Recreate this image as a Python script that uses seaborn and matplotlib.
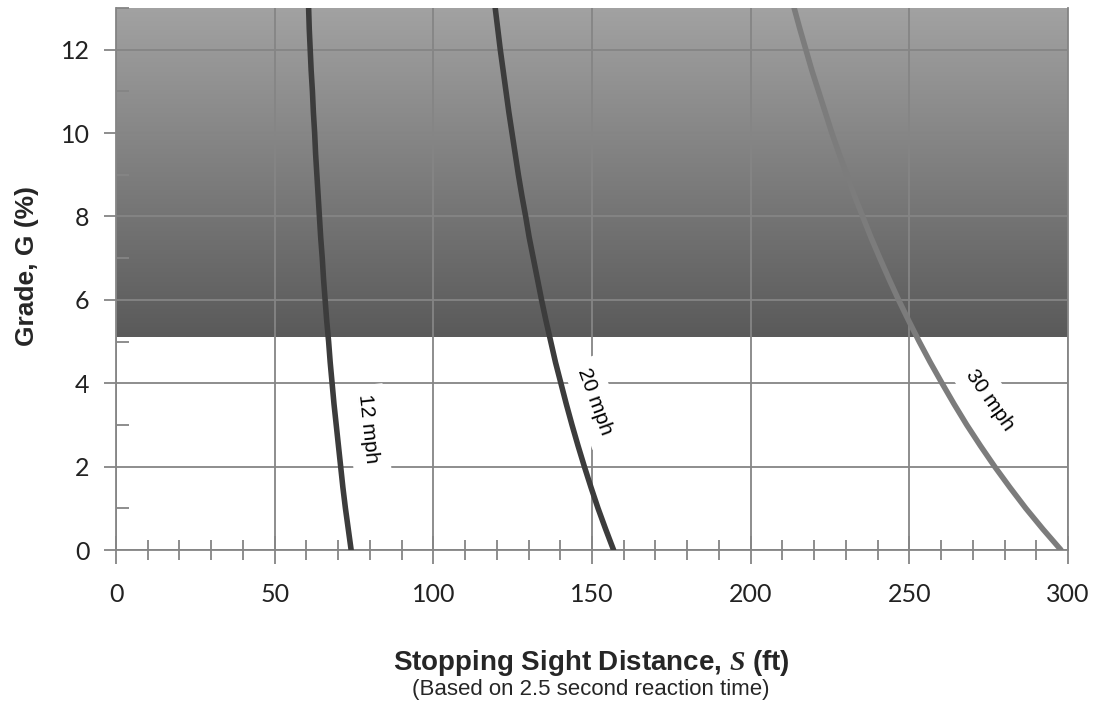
import numpy as np
import pandas as pd
import matplotlib
matplotlib.use("Agg")
import matplotlib.pyplot as plt
from matplotlib.colors import LinearSegmentedColormap
from matplotlib.ticker import MultipleLocator
import seaborn as sns

# valores (pendiente G en %, distancia S en ft)
grade = [0, 0.5, 1, 1.5, 2, 2.5, 3, 3.5, 4, 4.5, 5, 5.5, 6, 6.5, 7, 7.5, 8, 8.5,
         9, 9.5, 10, 10.5, 11, 11.5, 12, 12.5, 13]
s_12mph = [74.1, 73.2, 72.3, 71.5, 70.8, 70.1, 69.4, 68.7, 68.1, 67.5, 67.0, 66.4, 65.9, 65.4,
           65.0, 64.5, 64.1, 63.7, 63.3, 62.9, 62.6, 62.2, 61.9, 61.5, 61.2, 60.9, 60.7]
s_20mph = [156.8, 154.3, 151.9, 149.7, 147.6, 145.6, 143.7, 141.9, 140.2, 138.5, 137.0, 135.5,
           134.1, 132.8, 131.5, 130.2, 129.1, 127.9, 126.8, 125.8, 124.8, 123.8, 122.9, 122.0,
           121.1, 120.3, 119.5]
s_30mph = [297.8, 292.1, 286.7, 281.7, 276.9, 272.4, 268.1, 264.1, 260.3, 256.6, 253.1, 249.8,
           246.6, 243.6, 240.7, 237.9, 235.3, 232.7, 230.3, 227.9, 225.6, 223.5, 221.4, 219.3,
           217.4, 215.5, 213.7]
speeds = ["12 mph", "20 mph", "30 mph"]
shade_from = 5.1

# etiquetas de las curvas: (S, G, rotación)
label_pos = {"12 mph": (79.5, 2.9, -84), "20 mph": (151, 3.55, -70), "30 mph": (275.5, 3.6, -55)}

sns.set_theme(style="white")
plt.rcParams.update({
    "font.family": ["Liberation Sans", "DejaVu Sans"],
    "mathtext.fontset": "custom",
    "mathtext.it": "Liberation Serif:bold:italic",
    "mathtext.rm": "Liberation Sans:bold",
})

df = pd.concat([
    pd.DataFrame({"S": s, "G": grade, "Speed": name})
    for name, s in zip(speeds, [s_12mph, s_20mph, s_30mph])
])

fig = plt.figure(figsize=(10.96, 7.04), dpi=100)
ax = fig.add_axes([116 / 1096, 154 / 704, 952 / 1096, 542 / 704])

# zona sombreada con degradado
cmap = LinearSegmentedColormap.from_list("shade", ["#5a5a5a", "#a2a2a2"])
ax.imshow(np.linspace(0, 1, 256)[:, None], extent=[0, 300, shade_from, 13],
          origin="lower", cmap=cmap, aspect="auto", zorder=0)

palette = {"12 mph": "#3c3c3c", "20 mph": "#3c3c3c", "30 mph": "#7c7c7c"}
sns.lineplot(data=df, x="S", y="G", hue="Speed", palette=palette, sort=False,
             estimator=None, linewidth=4, legend=False, ax=ax, zorder=3)

for name, (sx, gy, rot) in label_pos.items():
    ax.text(sx, gy, name, rotation=rot, rotation_mode="anchor", ha="center", va="center",
            fontsize=15, color="black", zorder=4,
            bbox=dict(boxstyle="square,pad=0.45", fc="white", ec="none"))

ax.set_xlim(0, 300)
ax.set_ylim(0, 13)
ax.set_xlabel("")
ax.set_ylabel("")
ax.xaxis.set_major_locator(MultipleLocator(50))
ax.xaxis.set_minor_locator(MultipleLocator(10))
ax.yaxis.set_major_locator(MultipleLocator(2))
ax.yaxis.set_minor_locator(MultipleLocator(1))
ax.grid(True, which="major", color="#858585", linewidth=1.3, zorder=1)
for line in ax.get_xgridlines() + ax.get_ygridlines():
    line.set_zorder(1)

ax.tick_params(axis="x", which="major", direction="inout", length=20, width=1.3,
               color="#858585", pad=14, labelsize=18, bottom=True)
ax.tick_params(axis="x", which="minor", direction="inout", length=15, width=1.3,
               color="#858585", bottom=True)
ax.tick_params(axis="y", which="major", direction="out", length=9, width=1.3,
               color="#858585", pad=10, labelsize=18, left=True)
ax.tick_params(axis="y", which="minor", direction="in", length=9, width=1.3,
               color="#858585", left=True)
for lab in ax.get_xticklabels() + ax.get_yticklabels():
    lab.set_family(["Lato", "DejaVu Sans"])
    lab.set_color("#222222")

for side in ["left", "bottom", "right"]:
    ax.spines[side].set_color("#858585")
    ax.spines[side].set_linewidth(1.3)
ax.spines["top"].set_visible(False)

fig.text(27 / 1096, 1 - 266 / 704, "Grade, G (%)", rotation=90,
         ha="center", va="center", fontsize=19, fontweight="bold")
fig.text(591 / 1096, 1 - 663 / 704, "Stopping Sight Distance, $\\mathit{S}$ (ft)",
         ha="center", va="center", fontsize=20, fontweight="bold")
fig.text(591 / 1096, 1 - 689 / 704, "(Based on 2.5 second reaction time)",
         ha="center", va="center", fontsize=16)

fig.savefig("out.png", dpi=100)
